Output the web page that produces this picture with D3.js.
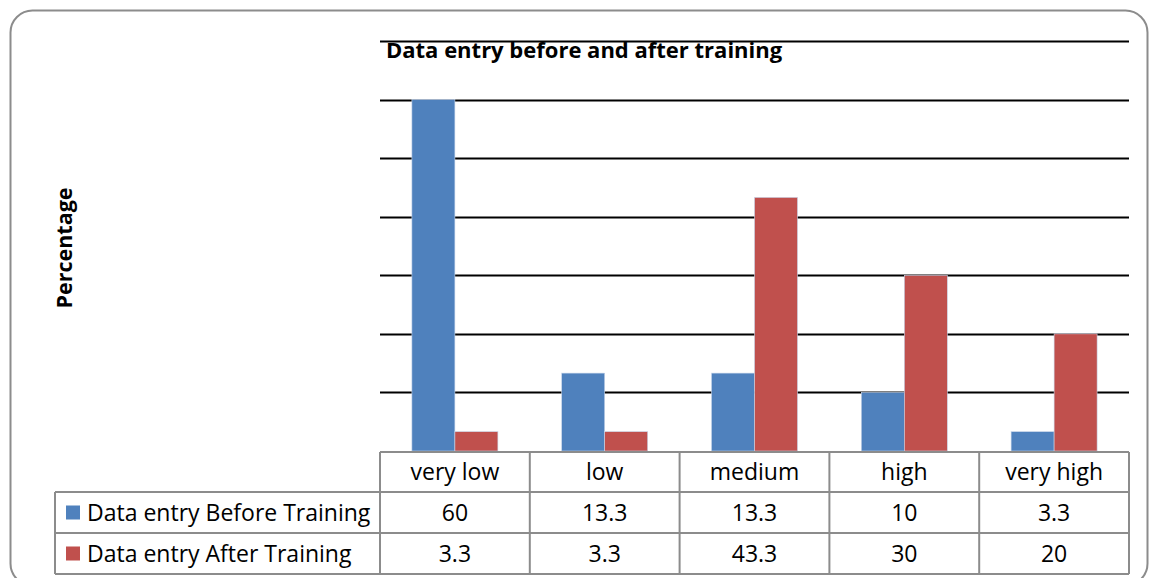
<!DOCTYPE html>
<html>
<head>
<meta charset="utf-8">
<script src="https://cdn.jsdelivr.net/npm/d3@7"></script>
<style>
  body { margin: 0; background: #fff; }
  svg text { font-family: "Open Sans", "Noto Sans", sans-serif; }
</style>
</head>
<body>
<div id="graph_draw"></div>
<script>
// data
var categories = ["very low", "low", "medium", "high", "very high"];
var seriesNames = ["Data entry Before Training", "Data entry After Training"];
var before = [60, 13.3, 13.3, 10, 3.3];
var after = [3.3, 3.3, 43.3, 30, 20];
var yTicks = [0, 10, 20, 30, 40, 50, 60, 70];
var colors = ["#4F81BD", "#C0504D"];

var W = 1149, H = 578;
var plot = {left: 380, right: 1129, top: 41, bottom: 451};

var svg = d3.select("#graph_draw").append("svg")
    .attr("width", W)
    .attr("height", H);

// outer frame
svg.append("rect")
    .attr("x", 10.5).attr("y", 10.5)
    .attr("width", 1137).attr("height", 575)
    .attr("rx", 22).attr("ry", 22)
    .attr("fill", "#fff")
    .attr("stroke", "#8c8c8c")
    .attr("stroke-width", 2);

var x0 = d3.scaleBand().domain(categories).range([plot.left, plot.right]);
var x1 = d3.scaleBand().domain(seriesNames).range([x0.bandwidth() / 2 - 43, x0.bandwidth() / 2 + 43]);
var y = d3.scaleLinear().domain([0, 70]).range([plot.bottom, plot.top]);

// gridlines
svg.append("g").selectAll("line")
    .data(yTicks.slice(1))
    .enter().append("line")
    .attr("x1", plot.left).attr("x2", plot.right)
    .attr("y1", function(d) { return Math.round(y(d)) + 0.5; })
    .attr("y2", function(d) { return Math.round(y(d)) + 0.5; })
    .attr("stroke", "#000")
    .attr("stroke-width", 2);

// bars
var rows = [before, after];
var groups = svg.append("g").selectAll("g")
    .data(categories)
    .enter().append("g")
    .attr("transform", function(d) { return "translate(" + x0(d) + ",0)"; });

groups.selectAll("rect")
    .data(function(d, i) { return seriesNames.map(function(s, j) { return {s: s, v: rows[j][i], c: colors[j]}; }); })
    .enter().append("rect")
    .attr("x", function(d) { return x1(d.s); })
    .attr("width", x1.bandwidth())
    .attr("y", function(d) { return y(d.v); })
    .attr("height", function(d) { return y(0) - y(d.v); })
    .attr("fill", function(d) { return d.c; })
    .attr("stroke", "#c8d6ea")
    .attr("stroke-width", 0.6);

// title
svg.append("text")
    .attr("x", 386).attr("y", 58)
    .attr("font-size", 22)
    .attr("font-weight", "bold")
    .text("Data entry before and after training");

// y axis title
svg.append("text")
    .attr("transform", "translate(72,248) rotate(-90)")
    .attr("text-anchor", "middle")
    .attr("font-size", 21.5)
    .attr("font-weight", "bold")
    .text("Percentage");

// data table
var rowY = [452, 492, 533, 574];
var tbl = svg.append("g").attr("stroke", "#8c8c8c").attr("stroke-width", 2).attr("fill", "none");
// header row
tbl.append("line").attr("x1", plot.left).attr("x2", plot.right).attr("y1", rowY[0]).attr("y2", rowY[0]);
rowY.slice(1).forEach(function(ry) {
    tbl.append("line").attr("x1", 55).attr("x2", plot.right).attr("y1", ry).attr("y2", ry);
});
tbl.append("line").attr("x1", 55).attr("x2", 55).attr("y1", rowY[1]).attr("y2", rowY[3]);
categories.forEach(function(c) {
    tbl.append("line").attr("x1", x0(c)).attr("x2", x0(c)).attr("y1", rowY[0]).attr("y2", rowY[3]);
});
tbl.append("line").attr("x1", plot.right).attr("x2", plot.right).attr("y1", rowY[0]).attr("y2", rowY[3]);

var txt = svg.append("g").attr("font-size", 23).attr("fill", "#000");
categories.forEach(function(c, i) {
    var cx = x0(c) + x0.bandwidth() / 2;
    txt.append("text").attr("x", cx).attr("y", (rowY[0] + rowY[1]) / 2 + 8)
        .attr("text-anchor", "middle").text(c);
    rows.forEach(function(r, j) {
        txt.append("text").attr("x", cx).attr("y", (rowY[j + 1] + rowY[j + 2]) / 2 + 8)
            .attr("text-anchor", "middle").text(r[i]);
    });
});
seriesNames.forEach(function(s, j) {
    var cy = (rowY[j + 1] + rowY[j + 2]) / 2;
    svg.append("rect").attr("x", 66).attr("y", cy - 7).attr("width", 14).attr("height", 14).attr("fill", colors[j]);
    txt.append("text").attr("x", 87).attr("y", cy + 8).text(s);
});
</script>
</body>
</html>
